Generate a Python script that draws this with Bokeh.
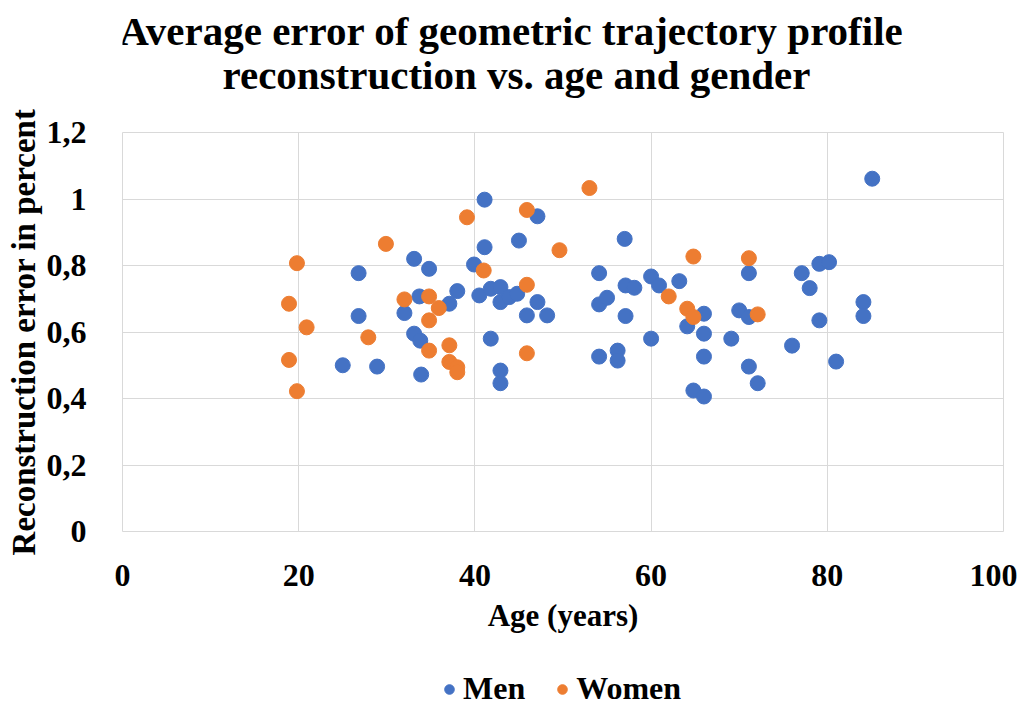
from bokeh.plotting import figure
from bokeh.layouts import column
from bokeh.models import (Range1d, FixedTicker, CustomJSTickFormatter, Legend,
                          LegendItem, Label)
from bokeh.embed import file_html
from bokeh.resources import INLINE

# ---- data ----
men_age = [25, 26.8, 26.8, 28.9, 32, 33.1, 33.1, 33.7, 33.8, 33.9, 34.8, 37.1, 38,
           39.9, 40.5, 41.1, 41.1, 41.8, 41.8, 42.9, 42.9, 42.9, 42.9, 43.9, 44.8, 45,
           45.9, 47.1, 47.1, 48.2, 54.1, 54.1, 54.1, 55, 56.2, 56.2, 57, 57.1, 57.1,
           58.1, 60, 60, 60.9, 63.2, 64.1, 64.8, 66, 66, 66, 66, 69.1, 70, 71.1, 71.1,
           71.1, 72.1, 76, 77.1, 78, 79.1, 80.2, 79.1, 81, 84.1, 84.1, 85.1]
men_err = [0.50, 0.777, 0.648, 0.496, 0.657, 0.82, 0.595, 0.707, 0.574, 0.472, 0.79,
           0.685, 0.723, 0.803, 0.71, 0.998, 0.855, 0.73, 0.58, 0.735, 0.69, 0.484,
           0.446, 0.705, 0.715, 0.875, 0.65, 0.948, 0.69, 0.65, 0.777, 0.683, 0.526,
           0.703, 0.544, 0.514, 0.88, 0.74, 0.648, 0.733, 0.767, 0.58, 0.74, 0.753,
           0.617, 0.424, 0.655, 0.595, 0.526, 0.406, 0.58, 0.665, 0.777, 0.645, 0.496,
           0.446, 0.559, 0.777, 0.732, 0.805, 0.81, 0.635, 0.511, 0.69, 0.648, 1.061]
women_age = [18.9, 19.8, 18.9, 19.8, 20.9, 27.9, 29.9, 32, 34.8, 35.9, 34.8, 34.8,
             37.1, 37.1, 38, 38, 39.1, 41, 45.9, 45.9, 45.9, 49.6, 53, 62, 64.1, 64.8,
             64.8, 71.1, 72.1]
women_err = [0.685, 0.807, 0.516, 0.422, 0.614, 0.584, 0.865, 0.698, 0.707, 0.672,
             0.635, 0.544, 0.56, 0.51, 0.494, 0.479, 0.945, 0.785, 0.967, 0.742, 0.536,
             0.846, 1.033, 0.707, 0.67, 0.645, 0.827, 0.822, 0.653]
x_ticks = [0, 20, 40, 60, 80, 100]
y_ticks = [0, 0.2, 0.4, 0.6, 0.8, 1.0, 1.2]
series_names = ["Men", "Women"]
series_colors = ["#4472C4", "#ED7D31"]
title_lines = ["Average error of  geometric trajectory profile",
               "reconstruction vs. age and gender"]

FONT = "Liberation Serif"
BL, BR = 122, 14   # left / right borders shared by all rows


def strip(height, xr, yr):
    f = figure(width=1017, height=height, output_backend="svg", toolbar_location=None,
               x_range=xr, y_range=yr, x_axis_location=None, y_axis_location=None,
               min_border_left=BL, min_border_right=BR, min_border_top=0,
               min_border_bottom=0)
    f.outline_line_color = None
    f.grid.visible = False
    return f


# ---- title strip ----
tt = strip(100, Range1d(0, 1), Range1d(0, 1))
for line, ybase in zip(title_lines, (70, 26)):
    tt.add_layout(Label(x=394, y=ybase, x_units="screen", y_units="screen", text=line,
                        text_align="center", text_baseline="alphabetic",
                        text_font=FONT, text_font_style="bold",
                        text_font_size="41px", text_color="black"))

# ---- main chart ----
p = figure(width=1017, height=560, output_backend="svg", toolbar_location=None,
           x_range=Range1d(0, 100), y_range=Range1d(0, 1.2), title=None,
           min_border_left=BL, min_border_right=BR, min_border_top=32,
           min_border_bottom=129)

p.outline_line_color = "#d9d9d9"
p.background_fill_color = "white"
p.border_fill_color = "white"

for ax, ticks in ((p.xaxis[0], x_ticks), (p.yaxis[0], y_ticks)):
    ax.ticker = FixedTicker(ticks=ticks)
    ax.axis_line_color = None
    ax.major_tick_line_color = None
    ax.minor_tick_line_color = None
    ax.major_label_text_font = FONT
    ax.major_label_text_font_style = "bold"
    ax.major_label_text_font_size = "32px"
    ax.major_label_text_color = "black"
    ax.axis_label_text_font = FONT
    ax.axis_label_text_font_style = "bold"
    ax.axis_label_text_color = "black"

p.xaxis.axis_label_text_font_size = "31px"
p.yaxis.axis_label_text_font_size = "33px"
p.yaxis.formatter = CustomJSTickFormatter(code="return tick.toString().replace('.', ',');")
p.xaxis.axis_label = "Age (years)"
p.yaxis.axis_label = "Reconstruction error in percent"
p.xaxis.major_label_standoff = 27
p.xaxis.axis_label_standoff = 9
p.yaxis.major_label_standoff = 30
p.yaxis.axis_label_standoff = 2

p.xgrid.ticker = FixedTicker(ticks=x_ticks)
p.ygrid.ticker = FixedTicker(ticks=y_ticks)
p.grid.grid_line_color = "#d9d9d9"
p.grid.grid_line_width = 1

series = [(men_age, men_err), (women_age, women_err)]
for (ages, errs), col in zip(series, series_colors):
    p.scatter(ages, errs, size=15, fill_color=col, line_color=col)

# ---- legend strip (series drawn again, out of view, only to feed the legend) ----
lg = strip(47, Range1d(-2, -1), Range1d(-2, -1))
lg_items = []
for name, (ages, errs), col in zip(series_names, series, series_colors):
    rr = lg.scatter(ages, errs, size=15, fill_color=col, line_color=col)
    lg_items.append(LegendItem(label=name, renderers=[rr]))
legend = Legend(items=lg_items, orientation="horizontal", location=(315, 0),
                label_text_font=FONT, label_text_font_style="bold",
                label_text_color="black", label_text_font_size="32px",
                glyph_width=24, glyph_height=24, label_standoff=2, spacing=25,
                padding=0, margin=0, border_line_color=None, background_fill_alpha=0)
lg.add_layout(legend, "center")

open("out.html", "w").write(file_html(column(tt, p, lg), INLINE))
